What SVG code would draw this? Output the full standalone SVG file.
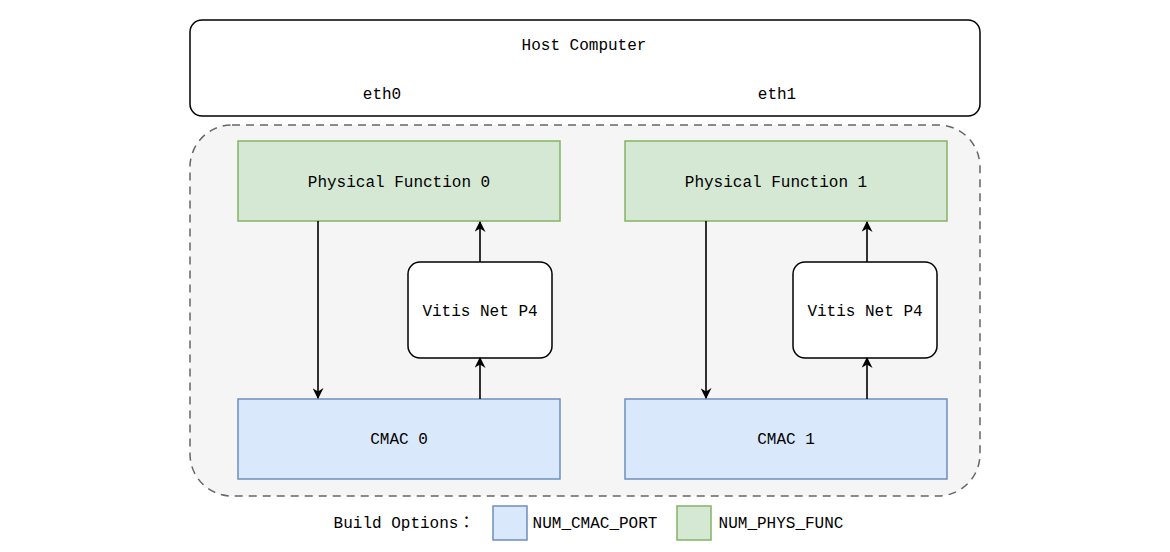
<svg xmlns="http://www.w3.org/2000/svg" width="1170" height="552" viewBox="0 0 1170 552">
<defs>
<style>
text{font-family:"Liberation Mono","Noto Sans CJK JP",monospace;font-size:16px;fill:#000;text-anchor:middle;dominant-baseline:central}
.pf{fill:#d5e8d4;stroke:#82b366;stroke-width:1.5}
.cm{fill:#dae8fc;stroke:#6c8ebf;stroke-width:1.5}
.vn{fill:#fff;stroke:#000;stroke-width:1.5}
.conn{stroke:#000;stroke-width:1.6;fill:none;marker-end:url(#ah)}
</style>
<marker id="ah" viewBox="0 0 10 10" refX="9" refY="5" markerWidth="11" markerHeight="11" markerUnits="userSpaceOnUse" orient="auto">
<path d="M0,0 L10,5 L0,10 L3,5 Z" fill="#000"/>
</marker>
</defs>
<rect width="1170" height="552" fill="#fff"/>
<g id="host">
<rect x="190" y="20" width="790" height="96" rx="12" fill="#fff" stroke="#000" stroke-width="1.5"/>
<text x="584" y="46">Host Computer</text>
<text x="382" y="95">eth0</text>
<text x="777" y="95">eth1</text>
</g>
<g id="fpga">
<rect x="190" y="125" width="790" height="371" rx="42" fill="#f5f5f5" stroke="#666" stroke-width="1.5" stroke-dasharray="8 6"/>
</g>
<g id="pf0"><rect class="pf" x="238" y="141" width="322" height="80"/><text x="399" y="183">Physical Function 0</text></g>
<g id="pf1"><rect class="pf" x="625" y="141" width="322" height="80"/><text x="776" y="183">Physical Function 1</text></g>
<g id="cmac0"><rect class="cm" x="238" y="399" width="322" height="80"/><text x="399" y="440">CMAC 0</text></g>
<g id="cmac1"><rect class="cm" x="625" y="399" width="322" height="80"/><text x="786" y="440">CMAC 1</text></g>
<g id="vnp0"><rect class="vn" x="408" y="262" width="144" height="96" rx="12"/><text x="480" y="312">Vitis Net P4</text></g>
<g id="vnp1"><rect class="vn" x="793" y="262" width="144" height="96" rx="12"/><text x="865" y="312">Vitis Net P4</text></g>
<g id="connectors">
<path class="conn" d="M318,221 V398"/>
<path class="conn" d="M480,399 V358"/>
<path class="conn" d="M480,262 V222"/>
<path class="conn" d="M706,221 V398"/>
<path class="conn" d="M867,399 V358"/>
<path class="conn" d="M867,262 V222"/>
</g>
<g id="legend">
<text x="404" y="524">Build Options：</text>
<rect class="cm" x="493" y="506" width="34" height="34"/>
<text x="595" y="524">NUM_CMAC_PORT</text>
<rect class="pf" x="677" y="506" width="34" height="34"/>
<text x="781" y="524">NUM_PHYS_FUNC</text>
</g>
</svg>
